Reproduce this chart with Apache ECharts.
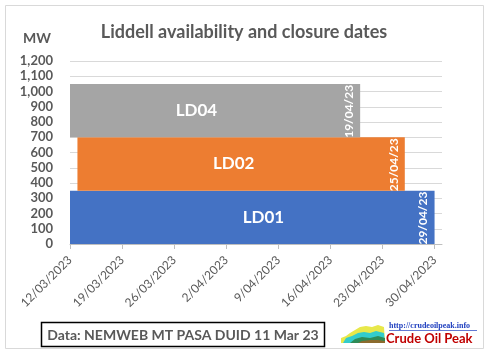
<!DOCTYPE html>
<html><head><meta charset="utf-8">
<script src="https://cdn.jsdelivr.net/npm/echarts@6/dist/echarts.min.js"></script>
<style>html,body{margin:0;padding:0;background:#fff}#c{width:490px;height:361px}</style>
</head><body><div id="c"></div>
<script>
// ---- data ----
const baseDate = '2023-03-12';
const axisEndDate = '2023-05-01';
const tickDates = ['2023-03-12','2023-03-19','2023-03-26','2023-04-02','2023-04-09','2023-04-16','2023-04-23','2023-04-30'];
const units = ['LD01','LD02','LD04'];
const startDates = ['2023-03-12','2023-03-13','2023-03-12'];
const endDates = ['2023-04-30','2023-04-26','2023-04-20'];   // end of last available day
const closureLabels = ['29/04/23','25/04/23','19/04/23'];
const lowMW = [0,350,700];
const highMW = [350,700,1050];
const unitLabelDates = ['2023-04-07','2023-04-03','2023-03-29'];
const colors = ['#4472c4','#ed7d31','#a5a5a5'];
const yTicks = [0,100,200,300,400,500,600,700,800,900,1000,1100,1200];

// ---- helpers ----
const DAY = 86400000;
const dayOf = d => (Date.parse(d) - Date.parse(baseDate)) / DAY;
const fmtDate = v => {
  const d = new Date(Date.parse(baseDate) + v * DAY);
  return d.getUTCDate() + '/' + String(d.getUTCMonth() + 1).padStart(2, '0') + '/' + d.getUTCFullYear();
};
const data = units.map((u, i) => [dayOf(startDates[i]), dayOf(endDates[i]), lowMW[i], highMW[i], dayOf(unitLabelDates[i]), i]);
const FONT = 'Lato';
const GREY = '#595959';

const chart = echarts.init(document.getElementById('c'), null, {renderer: 'canvas'});
chart.setOption({
  animation: false,
  backgroundColor: '#fff',
  grid: {left: 70, right: 48, top: 61, bottom: 117},
  xAxis: {
    type: 'value', min: 0, max: dayOf(axisEndDate), interval: 7,
    axisLine: {show: true, lineStyle: {color: '#bfbfbf'}},
    axisTick: {show: true, length: 5, lineStyle: {color: '#bfbfbf'}, customValues: tickDates.map(dayOf)},
    axisLabel: {customValues: tickDates.map(dayOf), rotate: 45, formatter: fmtDate, color: GREY, fontFamily: FONT, fontSize: 12, margin: 14},
    splitLine: {show: false}
  },
  yAxis: {
    type: 'value', min: yTicks[0], max: yTicks[yTicks.length - 1], interval: 100,
    axisLine: {show: false}, axisTick: {show: false},
    axisLabel: {formatter: v => v.toLocaleString('en-US'), color: GREY, fontFamily: FONT, fontWeight: 'bold', fontSize: 13, margin: 17},
    splitLine: {lineStyle: {color: '#d9d9d9'}}
  },
  series: [{
    type: 'custom',
    data: data,
    renderItem: (params, api) => {
      const i = api.value(5);
      const p1 = api.coord([api.value(0), api.value(3)]);
      const p2 = api.coord([api.value(1), api.value(2)]);
      const cy = (p1[1] + p2[1]) / 2;
      const lx = api.coord([api.value(4), 0])[0];
      return {
        type: 'group',
        children: [
          {type: 'rect', shape: {x: p1[0], y: p1[1], width: p2[0] - p1[0], height: p2[1] - p1[1]}, style: {fill: colors[i]}},
          {type: 'text', x: lx, y: cy, style: {text: units[i], fill: '#fff', font: 'bold 17px ' + FONT, align: 'center', verticalAlign: 'middle'}},
          {type: 'text', x: p2[0] - 11, y: p1[1] + 1, rotation: Math.PI / 2,
           style: {text: closureLabels[i], fill: '#fff', font: 'bold 12px ' + FONT, align: 'right', verticalAlign: 'middle'}}
        ]
      };
    }
  }],
  graphic: [
    {type: 'rect', shape: {x: 5.5, y: 5.5, width: 478, height: 343}, style: {fill: 'none', stroke: '#d9d9d9', lineWidth: 1}, z: -1},
    {type: 'text', x: 244, y: 32, style: {text: 'Liddell availability and closure dates', font: 'bold 18px ' + FONT, fill: GREY, align: 'center', verticalAlign: 'middle'}},
    {type: 'text', x: 37, y: 38, style: {text: 'MW', font: 'bold 14px ' + FONT, fill: GREY, align: 'center', verticalAlign: 'middle'}},
    {type: 'rect', shape: {x: 41.5, y: 322.5, width: 283, height: 24}, style: {fill: '#fff', stroke: '#000', lineWidth: 1.5}},
    {type: 'text', x: 183, y: 335, style: {text: 'Data: NEMWEB MT PASA DUID 11 Mar 23', font: 'bold 14px ' + FONT, fill: GREY, align: 'center', verticalAlign: 'middle'}},
    {type: 'polygon', shape: {points: [[341,343],[341,338],[346,336],[350,333],[355,330],[360,327],[366,326],[372,327],[378,325],[384,327],[385,343]]}, style: {fill: '#e8e84a'}},
    {type: 'polygon', shape: {points: [[343,343],[346,338],[352,336],[358,333],[364,332],[370,333],[376,331],[384,333],[385,343]]}, style: {fill: '#33cccc'}},
    {type: 'polygon', shape: {points: [[350,343],[355,339],[362,337],[370,338],[378,336],[385,338],[385,343]]}, style: {fill: '#2e8b57'}},
    {type: 'polygon', shape: {points: [[358,343],[362,341],[370,340],[378,340],[385,341],[385,343]]}, style: {fill: '#8b6b2e'}},
    {type: 'text', x: 389, y: 326, style: {text: 'http://crudeoilpeak.info', font: 'bold 8px "Liberation Serif"', fill: '#1f3fbf', align: 'left', verticalAlign: 'middle'}},
    {type: 'line', shape: {x1: 389, y1: 330.5, x2: 477, y2: 330.5}, style: {stroke: '#1f3fbf', lineWidth: 0.7}},
    {type: 'text', x: 386, y: 339, style: {text: 'Crude Oil Peak', font: 'bold 13px ' + FONT, fill: '#c00000', align: 'left', verticalAlign: 'middle'}}
  ]
});
</script>
</body></html>
